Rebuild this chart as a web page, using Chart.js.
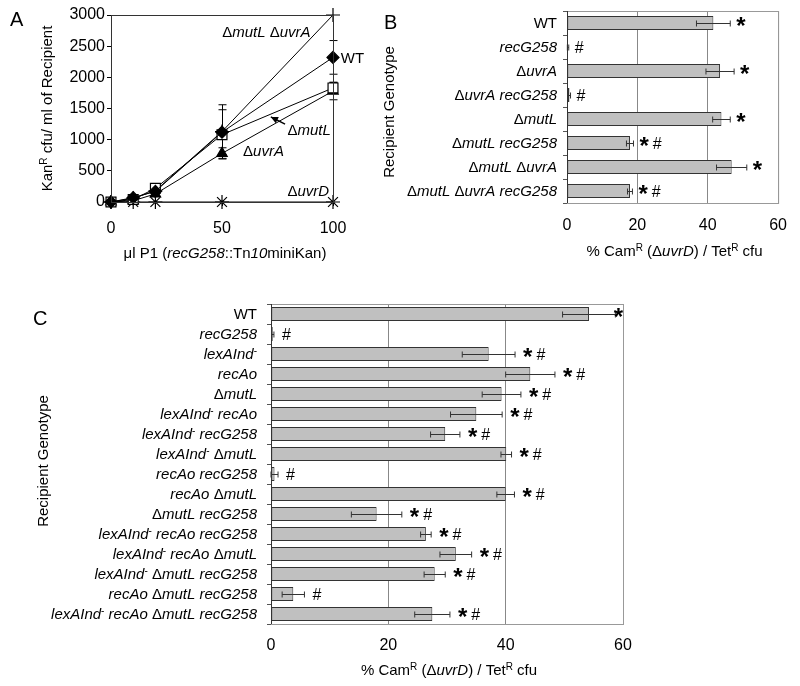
<!DOCTYPE html>
<html>
<head>
<meta charset="utf-8">
<script src="https://cdn.jsdelivr.net/npm/chart.js@4.4.1/dist/chart.umd.min.js"></script>
<style>
  body { margin: 0; background: #fff; width: 800px; height: 686px; position: relative; overflow: hidden; }
  .panel { position: absolute; }
</style>
</head>
<body>
<div class="panel" style="left:0;top:0"><canvas id="chartA" width="400" height="270"></canvas></div>
<div class="panel" style="left:370px;top:0"><canvas id="chartB" width="430" height="270"></canvas></div>
<div class="panel" style="left:0;top:280px"><canvas id="chartC" width="800" height="406"></canvas></div>
<script>
// markup in labels: _italic_  ^superscript^

// panel A: KanR transductants vs P1 volume
const doses = [0, 10, 20, 50, 100];
const kanWT = [0, 70, 170, 1120, 2320];
const kanWTErr = [10, 30, 40, 360, 270];
const kanMutL = [0, 40, 220, 1080, 1830];
const kanMutLErr = [10, 20, 50, 60, 90];
const kanUvrA = [0, 20, 130, 780, 1780];
const kanUvrAErr = [5, 10, 30, 90, 140];
const kanMutLUvrA = [0, 60, 180, 1130, 3000];
const kanMutLUvrAErr = [10, 20, 40, 430, 0];
const kanUvrD = [0, 0, 0, 0, 0];
const notesA = [
  { text: 'Δ_mutL_ Δ_uvrA_', x: 70, y: 2730, align: 'center' },
  { text: 'WT', x: 103.5, y: 2310, align: 'left' },
  { text: 'Δ_mutL_', x: 79.5, y: 1160, align: 'left' },
  { text: 'Δ_uvrA_', x: 59.5, y: 830, align: 'left' },
  { text: 'Δ_uvrD_', x: 79.5, y: 190, align: 'left' }
];
const arrowA = { from: [78.4, 1250], to: [72, 1365] };

// panel B
const genotypesB = ['WT', '_recG258_', 'Δ_uvrA_', 'Δ_uvrA recG258_', 'Δ_mutL_',
  'Δ_mutL recG258_', 'Δ_mutL_ Δ_uvrA_', 'Δ_mutL_ Δ_uvrA recG258_'];
const camB = [41.6, 0.3, 43.5, 0.7, 43.9, 17.9, 46.8, 17.9];
const camBErr = [4.8, 0.2, 4.0, 0.3, 2.5, 1.0, 4.3, 0.7];
const marksB = ['*', '#', '*', '#', '*', '* #', '*', '* #'];

// panel C
const genotypesC = ['WT', '_recG258_', '_lexAInd_^-^', '_recAo_', 'Δ_mutL_',
  '_lexAInd_^-^ _recAo_', '_lexAInd_^-^ _recG258_', '_lexAInd_^-^ Δ_mutL_',
  '_recAo recG258_', '_recAo_ Δ_mutL_', 'Δ_mutL recG258_',
  '_lexAInd_^-^ _recAo recG258_', '_lexAInd_^-^ _recAo_ Δ_mutL_',
  '_lexAInd_^-^ Δ_mutL recG258_', '_recAo_ Δ_mutL recG258_',
  '_lexAInd_^-^ _recAo_ Δ_mutL recG258_'];
const camC = [54.2, 0.3, 37.1, 44.2, 39.3, 35.0, 29.7, 40.1, 0.6, 40.0, 18.0, 26.4, 31.5, 27.9, 3.8, 27.5];
const camCErr = [4.5, 0.2, 4.5, 4.2, 3.3, 4.4, 2.5, 0.9, 0.6, 1.5, 4.3, 0.9, 2.7, 1.8, 1.9, 3.0];
const marksC = ['*', '#', '* #', '* #', '* #', '* #', '* #', '* #', '#', '* #', '* #', '* #', '* #', '* #', '#', '* #'];

const FONT = '"Liberation Sans", Arial, sans-serif';
Chart.defaults.font.family = FONT;
Chart.defaults.font.size = 15;
Chart.defaults.color = '#000';

function parseRich(str) {
  const out = [];
  let italic = false, sup = false, buf = '';
  for (const ch of str) {
    if (ch === '_' || ch === '^') {
      if (buf) out.push({ t: buf, italic, sup });
      buf = '';
      if (ch === '_') italic = !italic; else sup = !sup;
    } else buf += ch;
  }
  if (buf) out.push({ t: buf, italic, sup });
  return out;
}

function segFont(s, size) {
  return (s.italic ? 'italic ' : '') + (s.sup ? Math.round(size * 0.65) : size) + 'px ' + FONT;
}

// y is the vertical middle of the capitals
function drawRich(ctx, str, x, y, size, align, rotate) {
  const segs = parseRich(str);
  let w = 0;
  segs.forEach(s => { ctx.font = segFont(s, size); s.w = ctx.measureText(s.t).width; w += s.w; });
  ctx.save();
  ctx.translate(x, y);
  if (rotate) ctx.rotate(-Math.PI / 2);
  let cx = align === 'right' ? -w : align === 'center' ? -w / 2 : 0;
  ctx.textAlign = 'left';
  ctx.textBaseline = 'alphabetic';
  ctx.fillStyle = '#000';
  const base = size * 0.36;
  segs.forEach(s => {
    ctx.font = segFont(s, size);
    ctx.fillText(s.t, cx, s.sup ? base - size * 0.38 : base);
    cx += s.w;
  });
  ctx.restore();
}

function drawMarks(ctx, txt, x, y, maxX) {
  const parts = txt.split(' ');
  ctx.save();
  ctx.fillStyle = '#000';
  ctx.textAlign = 'left';
  ctx.textBaseline = 'alphabetic';
  let w = 0;
  parts.forEach(p => {
    ctx.font = p === '*' ? 'bold 24px ' + FONT : '16px ' + FONT;
    w += ctx.measureText(p).width + 4;
  });
  let cx = Math.min(x, maxX - w);
  parts.forEach(p => {
    if (p === '*') {
      ctx.font = 'bold 24px ' + FONT;
      ctx.fillText('*', cx, y + 10.5);
    } else {
      ctx.font = '16px ' + FONT;
      ctx.fillText(p, cx, y + 5.8);
    }
    cx += ctx.measureText(p).width + 4;
  });
  ctx.restore();
}

function seg(ctx, x0, y0, x1, y1) {
  ctx.beginPath(); ctx.moveTo(x0, y0); ctx.lineTo(x1, y1); ctx.stroke();
}

// ---------- panel A ----------
const pts = arr => doses.map((d, i) => ({ x: d, y: arr[i] }));
const lineDs = (label, arr, err, style, radius, fill) => ({
  label, data: pts(arr), errors: err,
  borderColor: '#000', borderWidth: 1, backgroundColor: fill,
  pointStyle: style, pointRadius: radius, pointBorderWidth: 1.2,
  pointBackgroundColor: fill, pointBorderColor: '#000', clip: false
});

const panelA = {
  id: 'panelA',
  beforeDatasetsDraw(chart) {
    const { ctx, scales: { x, y } } = chart;
    ctx.save();
    ctx.strokeStyle = '#000';
    ctx.lineWidth = 1;
    chart.data.datasets.forEach(ds => {
      if (!ds.errors) return;
      ds.data.forEach((p, i) => {
        const e = ds.errors[i];
        if (!e) return;
        const px = Math.round(x.getPixelForValue(p.x)) + 0.5;
        const y0 = y.getPixelForValue(p.y - e), y1 = y.getPixelForValue(p.y + e);
        seg(ctx, px, y0, px, y1);
        seg(ctx, px - 4, y0, px + 4, y0);
        seg(ctx, px - 4, y1, px + 4, y1);
      });
    });
    ctx.restore();
  },
  afterDraw(chart) {
    const { ctx, chartArea: a, scales: { x, y } } = chart;
    ctx.save();
    ctx.strokeStyle = '#333';
    ctx.lineWidth = 1;
    ctx.strokeRect(a.left + 0.5, a.top + 0.5, a.right - a.left, a.bottom - a.top);
    notesA.forEach(n => drawRich(ctx, n.text, x.getPixelForValue(n.x), y.getPixelForValue(n.y), 15, n.align));
    // arrow to the mutL line
    const fx = x.getPixelForValue(arrowA.from[0]), fy = y.getPixelForValue(arrowA.from[1]);
    const tx = x.getPixelForValue(arrowA.to[0]), ty = y.getPixelForValue(arrowA.to[1]);
    ctx.strokeStyle = '#000';
    ctx.lineWidth = 1.5;
    seg(ctx, fx, fy, tx, ty);
    const ang = Math.atan2(ty - fy, tx - fx);
    ctx.fillStyle = '#000';
    ctx.beginPath();
    ctx.moveTo(tx, ty);
    ctx.lineTo(tx - 8 * Math.cos(ang - 0.45), ty - 8 * Math.sin(ang - 0.45));
    ctx.lineTo(tx - 8 * Math.cos(ang + 0.45), ty - 8 * Math.sin(ang + 0.45));
    ctx.closePath();
    ctx.fill();
    drawRich(ctx, 'μl P1 (_recG258_::Tn_10_miniKan)', 225, 253, 15, 'center');
    drawRich(ctx, 'Kan^R^ cfu/ ml of Recipient', 47, (a.top + a.bottom) / 2, 15, 'center', true);
    drawRich(ctx, 'A', 10, 19, 20, 'left');
    ctx.restore();
  }
};

new Chart(document.getElementById('chartA'), {
  type: 'line',
  data: {
    datasets: [
      lineDs('WT', kanWT, kanWTErr, 'rectRot', 6, '#000'),
      lineDs('ΔmutL', kanMutL, kanMutLErr, 'rect', 7, '#fff'),
      lineDs('ΔuvrA', kanUvrA, kanUvrAErr, 'triangle', 6, '#000'),
      lineDs('ΔmutL ΔuvrA', kanMutLUvrA, kanMutLUvrAErr, 'cross', 7, '#000'),
      lineDs('ΔuvrD', kanUvrD, null, 'star', 7, '#000')
    ]
  },
  options: {
    responsive: false,
    animation: false,
    layout: { padding: { top: 15, right: 67, left: 0, bottom: 0 } },
    plugins: { legend: { display: false }, tooltip: { enabled: false } },
    scales: {
      x: {
        type: 'linear', min: 0, max: 100,
        ticks: { stepSize: 50, padding: 13, maxRotation: 0, font: { size: 16 } },
        grid: { drawOnChartArea: false, tickLength: 4, color: '#000' },
        border: { color: '#000' },
        afterFit: s => { s.height = 68; }
      },
      y: {
        min: 0, max: 3000,
        ticks: { stepSize: 500, padding: 2, font: { size: 16 }, callback: v => String(v) },
        grid: { drawOnChartArea: false, tickLength: 4, color: '#000' },
        border: { color: '#000' },
        afterFit: s => { s.width = 111; }
      }
    }
  },
  plugins: [panelA]
});

// ---------- panels B and C ----------
function barPanel(opts) {
  return {
    id: 'bars' + opts.letter,
    afterDatasetsDraw(chart) {
      const { ctx, chartArea: a, scales: { x, y } } = chart;
      const ds = chart.data.datasets[0];
      ctx.save();
      ctx.strokeStyle = '#999';
      ctx.lineWidth = 1;
      ctx.strokeRect(a.left + 0.5, a.top + 0.5, a.right - a.left, a.bottom - a.top);
      ctx.strokeStyle = '#333';
      seg(ctx, a.left + 0.5, a.top, a.left + 0.5, a.bottom);
      ds.data.forEach((v, i) => {
        const e = ds.errors[i];
        const py = Math.round(y.getPixelForValue(i)) + 0.5;
        const x0 = x.getPixelForValue(Math.max(0, v - e)), x1 = x.getPixelForValue(v + e);
        ctx.strokeStyle = '#333';
        seg(ctx, x0, py, x1, py);
        seg(ctx, x0, py - 3, x0, py + 3);
        seg(ctx, x1, py - 3, x1, py + 3);
        drawMarks(ctx, ds.marks[i], x1 + opts.gap, py, a.right + 4);
      });
      ctx.restore();
    },
    afterDraw(chart) {
      const { ctx, chartArea: a, scales: { y } } = chart;
      chart.data.labels.forEach((lab, i) => {
        drawRich(ctx, lab, a.left - opts.labelGap, y.getPixelForValue(i), 15, 'right');
      });
      drawRich(ctx, '% Cam^R^ (Δ_uvrD_) / Tet^R^ cfu', (a.left + a.right) / 2 + 2, opts.titleY, 15, 'center');
      drawRich(ctx, 'Recipient Genotype', opts.ytitleX, opts.ytitleY, 15, 'center', true);
      drawRich(ctx, opts.letter, opts.letterX, opts.letterY, 20, 'left');
    }
  };
}

function barChart(id, labels, values, errors, marks, cfg) {
  return new Chart(document.getElementById(id), {
    type: 'bar',
    data: {
      labels,
      datasets: [{
        data: values, errors, marks,
        backgroundColor: '#c0c0c0', borderColor: '#333', borderWidth: 1, borderSkipped: false,
        inflateAmount: 0, barThickness: 14
      }]
    },
    options: {
      indexAxis: 'y',
      responsive: false,
      animation: false,
      layout: { padding: { top: cfg.top, right: cfg.right, left: 0, bottom: 0 } },
      plugins: { legend: { display: false }, tooltip: { enabled: false } },
      scales: {
        x: {
          min: 0, max: 60,
          ticks: { stepSize: 20, padding: cfg.tickPad, maxRotation: 0, font: { size: 16 } },
          grid: { color: '#888', drawTicks: false },
          border: { display: false },
          afterFit: s => { s.height = cfg.xHeight; }
        },
        y: {
          ticks: { display: false },
          grid: { offset: true, drawOnChartArea: false, tickLength: 4, color: '#555' },
          border: { color: '#333' },
          afterFit: s => { s.width = cfg.yWidth; }
        }
      }
    },
    plugins: [barPanel(cfg)]
  });
}

// chart heights chosen so every row is a whole number of pixels (24 and 20)
barChart('chartB', genotypesB, camB, camBErr, marksB, {
  letter: 'B', top: 11, right: 13, xHeight: 67, yWidth: 197, tickPad: 13,
  gap: 6, labelGap: 10, titleY: 251, ytitleX: 19, ytitleY: 112, letterX: 14, letterY: 22
});

barChart('chartC', genotypesC, camC, camCErr, marksC, {
  letter: 'C', top: 24, right: 177, xHeight: 62, yWidth: 271, tickPad: 12,
  gap: 8, labelGap: 14, titleY: 390, ytitleX: 43, ytitleY: 181, letterX: 33, letterY: 38
});
</script>
</body>
</html>
